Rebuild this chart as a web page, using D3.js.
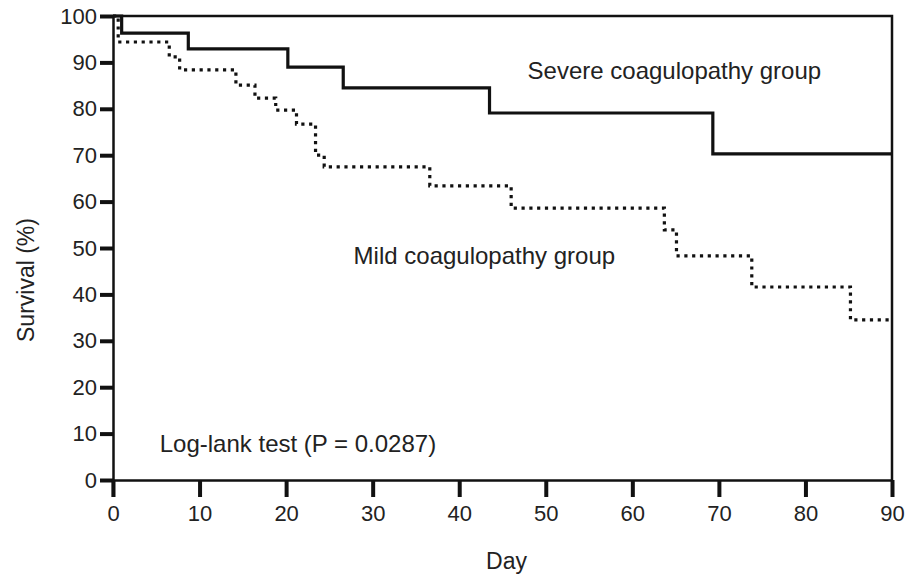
<!DOCTYPE html>
<html lang="en">
<head>
  <meta charset="UTF-8">
  <title>Survival - coagulopathy groups</title>
  <script src="https://d3js.org/d3.v7.min.js"></script>
  <style>
    body {
      margin: 0;
      padding: 0;
      background: #fff;
    }
    svg text {
      font-family: "Liberation Sans", Arial, Helvetica, sans-serif;
      fill: #222;
    }
    .tick text {
      font-size: 22px;
    }
    .note {
      font-size: 24px;
    }
  </style>
</head>
<body>
  <script>
    // values
    const severeDays = [0, 1, 8.7, 20.2, 26.6, 43.5, 69.3, 90];
    const severeSurv = [100, 96.3, 92.9, 89.0, 84.5, 79.1, 70.3, 70.3];

    const mildDays = [0, 0.6, 6.5, 7.7, 14.2, 16.4, 18.8, 21.2, 23.4, 24.4, 36.6, 46, 63.7, 65.1, 73.8, 85.2, 90];
    const mildSurv = [100, 94.4, 91.2, 88.4, 85.1, 82.3, 79.7, 76.7, 70.0, 67.5, 63.4, 58.6, 53.9, 48.3, 41.6, 34.5, 34.5];

    const xTicks = [0, 10, 20, 30, 40, 50, 60, 70, 80, 90];
    const yTicks = [0, 10, 20, 30, 40, 50, 60, 70, 80, 90, 100];

    const W = 909, H = 574;
    const margin = { top: 16, right: 17, bottom: 94, left: 113 };
    const width = W - margin.left - margin.right;
    const height = H - margin.top - margin.bottom;

    const svg = d3.select("body").append("svg")
      .attr("width", W)
      .attr("height", H);

    const g = svg.append("g")
      .attr("transform", `translate(${margin.left},${margin.top})`);

    const x = d3.scaleLinear().domain([0, 90]).range([0, width]);
    const y = d3.scaleLinear().domain([0, 100]).range([height, 0]);

    // frame (top + right)
    g.append("path")
      .attr("d", `M0,0H${width}V${height}`)
      .attr("fill", "none")
      .attr("stroke", "#111")
      .attr("stroke-width", 2.5);

    const xAxis = g.append("g")
      .attr("transform", `translate(0,${height})`)
      .call(d3.axisBottom(x).tickValues(xTicks).tickSize(17).tickSizeOuter(0).tickPadding(8));

    const yAxis = g.append("g")
      .call(d3.axisLeft(y).tickValues(yTicks).tickSize(13).tickSizeOuter(0).tickPadding(3));

    [xAxis, yAxis].forEach(a => {
      a.select(".domain").attr("stroke", "#111").attr("stroke-width", 2.5);
      a.selectAll(".tick line").attr("stroke", "#111").attr("stroke-width", 4);
      a.selectAll(".tick text").attr("fill", "#222");
    });

    // y axis line continues a bit below zero
    g.append("line")
      .attr("x1", 0).attr("x2", 0)
      .attr("y1", height).attr("y2", height + 17)
      .attr("stroke", "#111").attr("stroke-width", 2.5);

    const line = d3.line()
      .x(d => x(d[0]))
      .y(d => y(d[1]))
      .curve(d3.curveStepAfter);

    g.append("path")
      .datum(mildDays.map((d, i) => [d, mildSurv[i]]))
      .attr("d", line)
      .attr("fill", "none")
      .attr("stroke", "#111")
      .attr("stroke-width", 3.2)
      .attr("stroke-dasharray", "3.2,4.6");

    g.append("path")
      .datum(severeDays.map((d, i) => [d, severeSurv[i]]))
      .attr("d", line)
      .attr("fill", "none")
      .attr("stroke", "#111")
      .attr("stroke-width", 3.2);

    g.append("text").attr("class", "note")
      .attr("x", x(47.9)).attr("y", y(86.4))
      .text("Severe coagulopathy group");

    g.append("text").attr("class", "note")
      .attr("x", x(27.8)).attr("y", y(46.6))
      .text("Mild coagulopathy group");

    g.append("text").attr("class", "note")
      .attr("x", x(5.4)).attr("y", y(6.0))
      .text("Log-lank test (P = 0.0287)");

    svg.append("text")
      .attr("x", margin.left + width / 2 + 4)
      .attr("y", 569)
      .attr("text-anchor", "middle")
      .style("font-size", "23px")
      .text("Day");

    svg.append("text")
      .attr("transform", `translate(34,280) rotate(-90)`)
      .attr("text-anchor", "middle")
      .style("font-size", "23px")
      .text("Survival (%)");
  </script>
</body>
</html>
